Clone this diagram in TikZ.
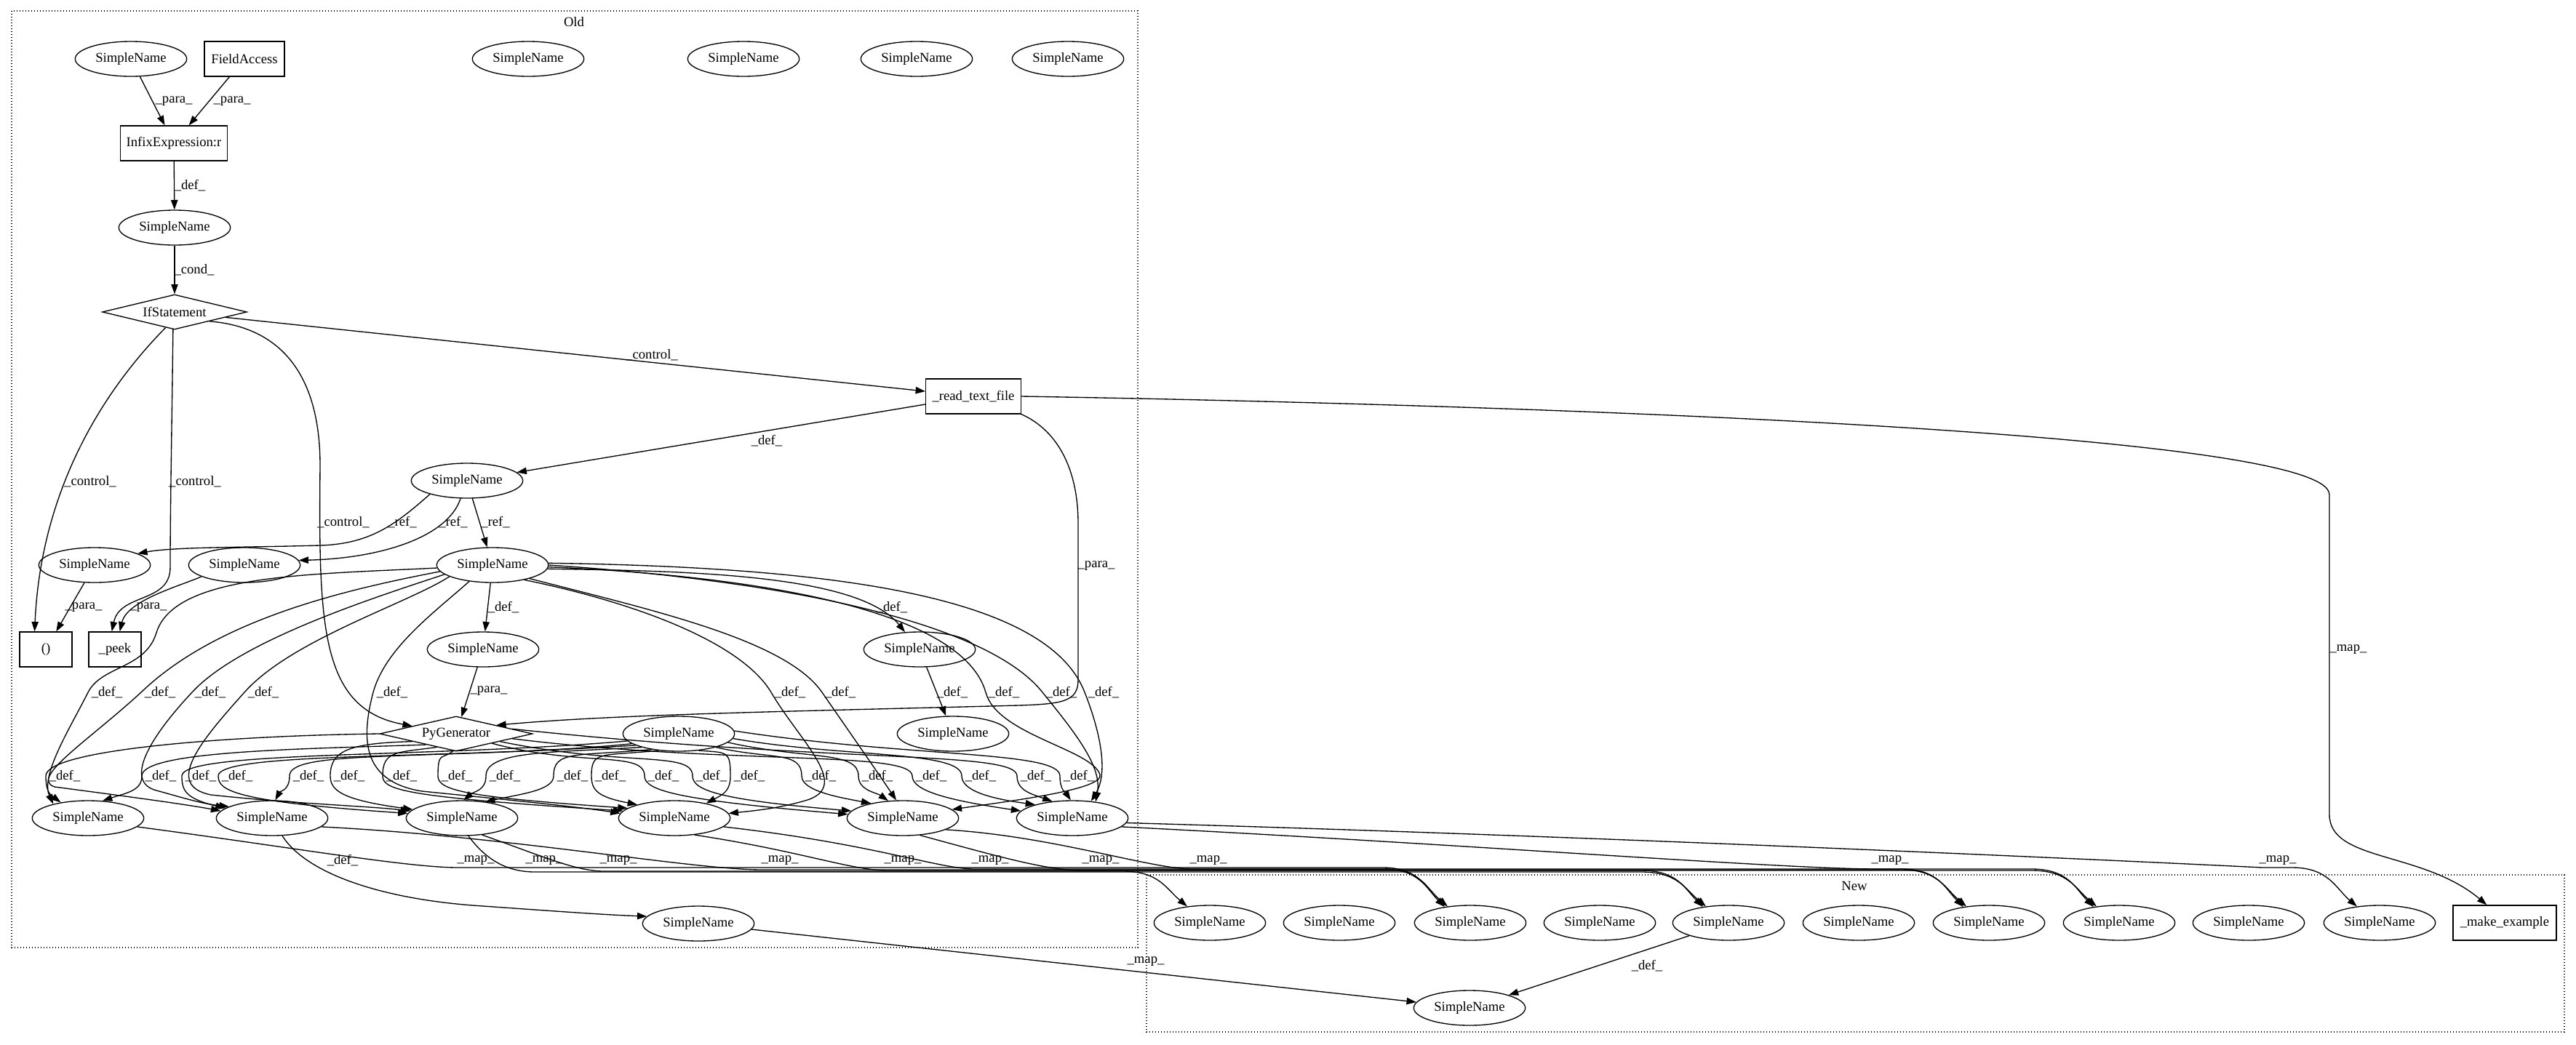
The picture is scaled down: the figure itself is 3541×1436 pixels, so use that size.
\documentclass[tikz,border=0pt]{standalone}
\usepackage{fontspec}
\setmainfont{Liberation Serif}
\usetikzlibrary{shapes.geometric,arrows.meta}
\newcommand{\edv}[6]{\draw[ed] (#1) .. controls (#2) and (#3,#4-35) .. (#3,#4) .. controls (#3,#4+20) and (#5) .. (#6);}
\newcommand{\edm}[7]{\draw[ed] (#1) .. controls (#2) and (#3) .. (#4,#5) -- (#6-120,#5) .. controls (#6-70,#5) and (#6-60,1222) .. (#7);}
\begin{document}
\begin{tikzpicture}[x=0.75pt,y=-0.75pt,font=\fontsize{14pt}{16pt}\selectfont,
 sn/.style={ellipse,draw,line width=1pt,minimum width=115pt,minimum height=36pt,inner sep=0pt},
 bx/.style={rectangle,draw,line width=1pt,minimum height=36pt,inner sep=0pt},
 dm/.style={diamond,draw,line width=1pt,shape aspect=4,minimum height=36pt,inner sep=1pt},
 ed/.style={draw,line width=1pt,-{Triangle[length=10pt,width=7pt]}},
 lb/.style={inner sep=0pt},
 cl/.style={draw,dotted,line width=1pt}]
\useasboundingbox (0,0) rectangle (3541,1436);
% clusters
\draw[cl] (16,15) rectangle (1564,1303);
\node (oldlab) at (789,30) {Old};
\draw[cl] (1576,1203) rectangle (3525,1419);
\node (newlab) at (2549,1218) {New};
% nodes old
\node[sn] (t1) at (180,81) {SimpleName};
\node[bx,minimum width=82.5pt] (fa) at (336,81) {FieldAccess};
\node[sn] (t2) at (726,81) {SimpleName};
\node[sn] (t3) at (1022,81) {SimpleName};
\node[sn] (t4) at (1260,81) {SimpleName};
\node[sn] (t5) at (1468,81) {SimpleName};
\node[bx,minimum width=110pt] (inf) at (239,197) {InfixExpression:r};
\node[sn] (c) at (240,313) {SimpleName};
\node[dm,minimum width=149pt] (ifs) at (240,429) {IfStatement};
\node[bx,minimum width=98pt] (rtf) at (1338,545) {\_read\_text\_file};
\node[sn] (p) at (642,661) {SimpleName};
\node[sn] (l) at (130,777) {SimpleName};
\node[sn] (m) at (336,777) {SimpleName};
\node[sn] (h) at (677,777) {SimpleName};
\node[bx,minimum width=54pt] (par) at (63,893) {()};
\node[bx,minimum width=54pt] (peek) at (158,893) {\_peek};
\node[sn] (hd) at (664,893) {SimpleName};
\node[sn] (hr) at (1264,893) {SimpleName};
\node[dm,minimum width=157.5pt] (pg) at (627,1009) {PyGenerator};
\node[sn] (s) at (933,1009) {SimpleName};
\node[sn] (hr2) at (1310,1009) {SimpleName};
\node[sn] (b1) at (121,1125) {SimpleName};
\node[sn] (b2) at (374,1125) {SimpleName};
\node[sn] (b3) at (635,1125) {SimpleName};
\node[sn] (b4) at (927,1125) {SimpleName};
\node[sn] (b5) at (1241,1125) {SimpleName};
\node[sn] (b6) at (1474,1125) {SimpleName};
\node[sn] (lo) at (960,1270) {SimpleName};
% nodes new
\node[sn] (n1) at (1663,1269) {SimpleName};
\node[sn] (n2) at (1841,1269) {SimpleName};
\node[sn] (n3) at (2021,1269) {SimpleName};
\node[sn] (n4) at (2199,1269) {SimpleName};
\node[sn] (n5) at (2376,1269) {SimpleName};
\node[sn] (n6) at (2555,1269) {SimpleName};
\node[sn] (n7) at (2734,1269) {SimpleName};
\node[sn] (n8) at (2913,1269) {SimpleName};
\node[sn] (n9) at (3091,1269) {SimpleName};
\node[sn] (n10) at (3271,1269) {SimpleName};
\node[bx,minimum width=106.5pt] (mk) at (3443,1269) {\_make\_example};
\node[sn] (nl) at (2020,1386) {SimpleName};
% top edges
\draw[ed] (t1) -- (inf);
\draw[ed] (fa) -- (inf);
\draw[ed] (inf) -- (c);
\draw[ed] (c) -- (ifs);
\draw[ed] (ifs) -- (rtf);
\draw[ed] (ifs.240) .. controls (120,560) and (55,700) .. (par.122);
\draw[ed] (ifs.265) .. controls (236,600) and (234,700) .. (234,780) .. controls (234,830) and (165,815) .. (peek.100);
\draw[ed] (ifs.345) .. controls (390,450) and (440,520) .. (440,640) .. controls (438,860) and (440,975) .. (pg.170);
\draw[ed] (rtf) -- (p);
\draw[ed] (rtf.south east) .. controls (1450,590) and (1482,640) .. (1482,720) -- (1482,935) .. controls (1482,965) and (1460,968) .. (1400,970) .. controls (1100,978) and (850,982) .. (pg.12);
\draw[ed] (rtf.east) .. controls (2000,555) and (3200,590) .. (3202,680) -- (3202,1120) .. controls (3202,1185) and (3330,1170) .. (mk.135);
\draw[ed] (p.200) .. controls (545,720) and (510,748) .. (440,750) .. controls (330,753) and (240,752) .. (l.15);
\draw[ed] (p.250) .. controls (615,740) and (520,768) .. (m.5);
\draw[ed] (p) -- (h);
\draw[ed] (l) -- (par);
\draw[ed] (m.195) .. controls (250,805) and (175,825) .. (peek.75);
\draw[ed] (h) -- (hd);
\draw[ed] (hd) -- (pg);
\draw[ed] (h.356) .. controls (950,785) and (1180,790) .. (hr.130);
\draw[ed] (hr) -- (hr2);
% h to bottom row
\draw[ed] (h.183) .. controls (420,790) and (240,790) .. (215,870) .. controls (200,920) and (140,915) .. (121,952) .. controls (100,995) and (55,1065) .. (b1.158);
\draw[ed] (h.187) .. controls (480,810) and (300,850) .. (194,952) .. controls (120,1020) and (40,1070) .. (75,1082) .. controls (150,1092) and (250,1105) .. (b2.172);
\draw[ed] (h.191) .. controls (520,820) and (330,880) .. (264,952) .. controls (205,1015) and (170,1075) .. (215,1087) .. controls (245,1095) and (275,1105) .. (b2.165);
\draw[ed] (h.195) .. controls (560,830) and (400,880) .. (336,952) .. controls (275,1020) and (225,1080) .. (290,1093) .. controls (400,1105) and (500,1108) .. (b3.172);
\draw[ed] (h.215) .. controls (600,840) and (530,890) .. (513,952) .. controls (495,1020) and (500,1075) .. (580,1088) .. controls (700,1100) and (800,1110) .. (b4.175);
\draw[ed] (h.335) .. controls (880,830) and (1020,885) .. (1060,952) .. controls (1100,1020) and (1170,1080) .. (1110,1100) .. controls (1070,1112) and (1035,1115) .. (b4.5);
\draw[ed] (h.340) .. controls (900,840) and (1080,880) .. (1130,952) .. controls (1170,1010) and (1205,1060) .. (b5.110);
\draw[ed] (h.358) .. controls (1000,790) and (1320,830) .. (1355,952) .. controls (1370,1010) and (1500,1030) .. (1512,1065) .. controls (1518,1085) and (1400,1100) .. (b5.10);
\draw[ed] (h.0) .. controls (1100,800) and (1360,860) .. (1433,952) .. controls (1480,1010) and (1515,1055) .. (b6.35);
\draw[ed] (h.2) .. controls (1150,780) and (1440,820) .. (1491,952) .. controls (1510,1000) and (1525,1060) .. (b6.42);
% PyGenerator / SimpleName to bottom row
\edv{pg.west}{300,1012}{63}{1067}{68,1092}{b1.150}
\edv{pg.200}{420,1030}{195}{1067}{175,1090}{b1.50}
\edv{s.188}{600,1042}{250}{1067}{255,1098}{b2.168}
\edv{s.192}{650,1045}{300}{1067}{320,1102}{b3.175}
\edv{s.195}{560,1045}{398}{1067}{385,1088}{b2.80}
\edv{pg.190}{480,1022}{454}{1067}{470,1100}{b3.170}
\edv{pg.215}{545,1035}{526}{1067}{560,1096}{b4.172}
\edv{pg.260}{608,1045}{602}{1067}{640,1096}{b4.168}
\edv{s.200}{760,1035}{668}{1067}{652,1088}{b3.85}
\edv{s.210}{790,1040}{761}{1067}{715,1092}{b3.35}
\edv{s.220}{825,1040}{813}{1067}{822,1096}{b4.160}
\edv{pg.345}{800,1055}{886}{1067}{930,1100}{b5.176}
\edv{pg.350}{860,1055}{952}{1067}{990,1100}{b5.172}
\edv{s.320}{1000,1035}{1004}{1067}{995,1092}{b4.25}
\edv{s.340}{1060,1045}{1102}{1067}{1150,1096}{b5.155}
\edv{s.350}{1110,1045}{1180}{1067}{1205,1090}{b5.130}
\edv{pg.355}{1000,1052}{1254}{1067}{1300,1100}{b6.172}
\edv{s.355}{1160,1042}{1322}{1067}{1360,1098}{b6.160}
\edv{pg.5}{1150,1050}{1398}{1067}{1418,1092}{b6.140}
\edv{s.3}{1250,1042}{1457}{1067}{1465,1090}{b6.95}
% lower edges
\draw[ed] (b2.300) .. controls (420,1200) and (520,1235) .. (650,1245) .. controls (750,1252) and (830,1258) .. (lo.172);
\draw[ed] (lo) -- (nl);
\draw[ed] (n5) -- (nl);
% map edges
\edm{b1.350}{400,1165}{560,1193}{630}{1193}{2021}{n3.144}
\edm{b2.350}{700,1150}{950,1196}{1048}{1196}{2734}{n7.144}
\edm{b3.290}{670,1185}{700,1199}{735}{1199}{2376}{n5.144}
\edm{b3.320}{740,1175}{790,1198}{830}{1198}{1663}{n1.144}
\edm{b4.320}{1100,1170}{1170,1197}{1220}{1197}{2913}{n8.144}
\edm{b4.350}{1200,1160}{1290,1195}{1340}{1195}{2021}{n3.148}
\edm{b5.315}{1380,1180}{1440,1197}{1490}{1197}{2376}{n5.148}
\edm{b5.345}{1450,1150}{1580,1195}{1640}{1195}{2734}{n7.148}
\edm{b6.350}{2000,1160}{2450,1195}{2580}{1195}{2913}{n8.148}
\edm{b6.355}{2200,1150}{2950,1185}{3110}{1193}{3271}{n10.144}
% labels
\node[lb] (la1) at (239,139) {\_para\_};
\node[lb] (la2) at (319,139) {\_para\_};
\node[lb] (la3) at (261,255) {\_def\_};
\node[lb] (la4) at (267,371) {\_cond\_};
\node[lb] (la5) at (896,488) {\_control\_};
\node[lb] (la6) at (124,662) {\_control\_};
\node[lb] (la7) at (268,662) {\_control\_};
\node[lb] (la8) at (472,718) {\_control\_};
\node[lb] (la9) at (1054,606) {\_def\_};
\node[lb] (la10) at (1507,778) {\_para\_};
\node[lb] (la11) at (3228,893) {\_map\_};
\node[lb] (la12) at (553,718) {\_ref\_};
\node[lb] (la13) at (623,718) {\_ref\_};
\node[lb] (la14) at (681,718) {\_ref\_};
\node[lb] (la15) at (115,835) {\_para\_};
\node[lb] (la16) at (204,835) {\_para\_};
\node[lb] (la17) at (692,835) {\_def\_};
\node[lb] (la18) at (1226,835) {\_def\_};
\node[lb] (la19) at (672,950) {\_para\_};
\node[lb] (la20) at (1309,952) {\_def\_};
\foreach \x [count=\i] in {147,220,289,362,539,1086,1155,1380,1459,1517}
  \node[lb] (hl\i) at (\x,952) {\_def\_};
\foreach \x [count=\i] in {89,221,276,326,424,480,552,628,694,787,839,912,978,1030,1128,1206,1280,1348,1424,1483}
  \node[lb] (gl\i) at (\x,1067) {\_def\_};
\foreach \x [count=\i] in {654,748,850,1072,1241,1361,1513,1661,2598,3131}
  \node[lb] (ml\i) at (\x,1183) {\_map\_};
\node[lb] (la21) at (471,1183) {\_def\_};
\node[lb] (la22) at (1575,1322) {\_map\_};
\node[lb] (la23) at (2264,1328) {\_def\_};
\end{tikzpicture}
\end{document}
